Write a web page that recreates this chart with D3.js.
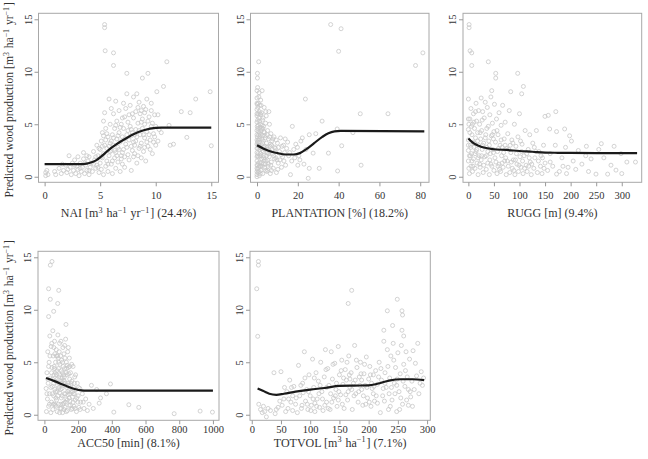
<!DOCTYPE html>
<html>
<head>
<meta charset="utf-8">
<script src="https://cdn.jsdelivr.net/npm/d3@7"></script>
<style>
  body { margin: 0; background: #fff; }
  svg text { font-family: "Liberation Serif", "Times New Roman", serif; fill: #333; }
</style>
</head>
<body>
<svg id="view" width="648" height="459"></svg>
<script>

// ---- data ----
const naiPts = [[0.1,0.1],[0.1,0.4],[0.2,0.6],[0.3,0.2],[0.9,0.5],[1.0,0.2],[1.3,0.8],[1.5,0.3],[1.7,0.6],[1.9,1.1],[2.0,0.4],[2.2,2.0],[2.3,0.9],[2.4,0.2],[2.5,1.3],[2.6,0.6],[2.7,1.6],[2.8,0.3],[2.9,1.0],[3.0,0.7],[3.0,1.9],[3.1,0.1],[3.2,1.3],[3.3,0.5],[3.4,0.9],[3.5,1.7],[3.5,2.3],[3.6,0.3],[3.7,1.1],[3.8,0.6],[3.9,1.5],[4.0,0.2],[4.0,1.9],[4.1,0.9],[4.2,1.3],[4.3,0.5],[4.4,2.4],[4.5,1.6],[4.6,0.8],[4.7,1.1],[4.8,2.0],[4.9,0.4],
  [5.0,1.3],[5.0,2.6],[5.1,0.7],[5.1,3.4],[5.2,1.8],[5.2,4.2],[5.3,0.2],[5.3,2.2],[5.3,5.3],[5.4,14.5],[5.4,14.2],[5.45,12.0],[5.4,3.0],[5.5,1.0],[5.5,4.6],[5.6,2.7],[5.6,1.5],[5.7,3.8],[5.7,0.5],[5.8,7.4],[5.8,2.0],[5.9,3.2],[5.9,5.0],[6.0,1.2],[6.0,2.5],[6.1,4.0],[6.1,0.3],[6.2,11.8],[6.2,10.6],[6.2,6.0],[6.2,3.0],[6.3,1.8],[6.3,4.6],[6.4,2.3],[6.4,0.8],[6.5,3.6],[6.5,5.3],[6.6,1.4],[6.6,2.8],[6.7,4.2],[6.7,6.3],[6.8,3.3],[6.8,0.5],[6.9,2.0],[6.9,5.0],
  [7.0,3.8],[7.0,1.2],[7.1,4.6],[7.1,2.6],[7.2,5.7],[7.2,0.9],[7.3,3.1],[7.3,6.5],[7.4,9.85],[7.4,7.9],[7.4,4.0],[7.5,2.1],[7.5,5.2],[7.6,3.5],[7.6,1.6],[7.7,4.8],[7.7,6.8],[7.8,2.9],[7.8,0.6],[7.9,4.2],[8.0,7.6],[8.0,3.3],[8.0,5.6],[8.1,2.2],[8.2,4.5],[8.2,6.2],[8.3,1.3],[8.3,3.8],[8.4,5.1],[8.5,2.7],[8.5,7.1],[8.6,4.0],[8.6,6.0],[8.7,3.2],[8.7,1.8],[8.8,9.4],[8.8,5.5],[8.8,4.6],[8.9,6.7],[8.9,2.4],[9.0,3.7],[9.0,5.0],[9.1,1.5],[9.1,6.4],[9.2,4.3],[9.3,9.85],[9.3,2.9],[9.4,5.7],[9.5,3.5],[9.6,6.3],[9.6,4.8],[9.7,2.2],[9.8,4.1],[9.9,5.9],[10.0,3.0],[10.1,8.1],[10.2,5.9],[10.3,4.5],[10.5,4.2],[10.7,8.6],[11.0,10.95],[11.2,4.9],[11.3,3.0],[11.6,3.1],[12.3,6.2],[12.8,3.75],[13.1,6.1],[13.6,7.4],[14.9,8.1],[15.0,2.95],
  [5.2,2.9],[5.5,3.5],[5.7,1.2],[6.0,3.4],[6.3,2.5],[6.6,3.9],[6.9,1.7],[7.2,3.6],[7.5,4.4],[7.8,3.9],[8.1,3.0],[8.4,2.0],[8.7,5.2],[9.0,2.8],[9.4,4.0],[9.8,3.3],[5.9,2.4],[6.4,4.9],[7.0,2.3],[8.0,1.9],
  [5.1,1.9],[5.3,3.9],[5.6,4.1],[5.8,2.9],[6.1,1.5],[6.2,3.7],[6.5,2.0],[6.7,2.6],[6.8,4.7],[7.0,5.6],[7.2,1.9],[7.4,2.8],[7.6,5.9],[7.8,4.5],[7.9,2.5],[8.1,4.0],[8.2,3.4],[8.4,6.6],[8.5,4.4],[8.6,2.9],[8.7,6.3],[8.9,4.0],[9.0,6.1],[9.2,3.3],[9.3,5.3],[9.5,2.6],[9.7,5.1],[9.9,3.8],[10.0,4.8],[10.2,3.4],[3.2,0.8],[3.6,1.3],[4.0,0.6],[4.4,1.2],[4.6,1.9],[4.8,0.9],[2.7,1.1],[3.8,2.0],[2.1,0.7],[1.6,1.2],[4.9,2.7],[4.7,3.0],[5.4,6.1],[6.0,6.5],[7.1,7.0],[6.4,7.2],[7.9,6.0],[9.6,7.0],[8.3,7.9],[9.2,7.4]];

const plantPts = [[0,0.2],[0,0.8],[0,1.5],[0,2.3],[0,3.1],[0,4.0],[0,5.2],[0,6.4],[0,7.5],[0.2,9.85],[0.2,9.4],[0.3,8.5],[0.3,1.1],[0.4,2.7],[0.4,4.6],[0.5,6.0],[0.5,0.4],[0.6,3.5],[0.7,7.0],[0.8,10.95],[0.8,1.9],[0.9,5.6],[1.0,2.9],[1.0,8.0],[1.1,0.1],[1.2,4.2],[1.3,6.8],[1.4,1.4],[1.5,3.8],[1.6,5.0],[1.7,2.2],[1.8,7.3],[1.9,0.6],[2.0,4.4],[2.1,3.0],[2.2,6.1],[2.3,1.7],[2.5,8.2],[2.6,2.5],[2.7,5.4],[2.8,0.3],[3.0,3.4],[3.1,1.2],[3.2,4.8],[3.4,2.0],[3.5,6.6],[3.7,0.9],[3.9,3.9],[4.0,2.6],[4.2,5.1],[4.4,1.5],[4.6,3.2],[4.8,0.5],[5.0,2.3],[5.2,4.4],[5.4,1.0],[5.6,3.6],[5.8,6.2],[6.0,1.9],[6.3,2.9],[6.5,0.3],[6.8,4.1],[7.0,1.4],[7.3,3.4],[7.6,2.2],[8.0,0.8],[8.3,3.8],[8.6,1.7],[9.0,2.7],[9.5,0.4],[10.0,3.2],[10.4,1.3],[11.0,2.4],[11.5,3.7],[12.0,0.9],[12.5,1.9],[13.0,3.0],[13.5,2.3],[14.0,1.1],[15.0,3.3],[15.5,2.0],[16.4,0.2],[17.0,1.5],[17.3,4.8],[18.0,2.6],[19.0,3.1],[20.0,1.1],[20.5,2.0],[21.5,3.4],[22.2,3.7],[23.7,7.4],[24.0,2.6],[25.1,-0.15],[25.6,0.8],[25.6,4.0],[27.5,2.25],[28.8,4.1],[30.5,0.8],[31.9,5.3],[35.0,2.25],[36.1,14.5],[39.3,4.55],[39.5,0.55],[40.0,11.95],[41.2,14.1],[41.5,2.95],[47.0,4.2],[50.6,6.0],[51.0,1.1],[64.2,6.0],[77.7,10.6],[81.3,11.8],
  [0,0.5],[0,1.1],[0,1.9],[0,2.7],[0,3.5],[0,4.4],[0,5.8],[0.1,6.9],[0.1,3.8],[0.2,2.0],[0.3,5.4],[0.6,4.9],[0.7,0.9],[0.9,3.3],[1.1,6.2],[1.3,2.6],[1.5,4.7],[1.6,0.3],[1.9,5.9],[2.1,1.3],[2.4,3.6],[2.9,4.6],[3.3,2.8],[3.6,1.6],[4.1,3.7],[4.5,5.8],[5.1,1.6],[5.5,2.6],[6.2,3.8],[6.7,1.1],[7.5,2.6],[8.2,2.0],[9.2,1.8],[10.5,2.8],[11.8,2.1],[13.2,1.5],[14.5,2.7],
  [0.4,3.0],[0.8,4.0],[1.2,1.0],[1.6,2.8],[2.0,2.0],[2.4,4.9],[2.8,3.2],[3.2,1.8],[3.6,4.2],[4.2,0.6],[4.8,2.8],[5.6,1.2],[6.4,2.4],[7.2,3.0],[8.8,2.4],[9.8,1.6],
  [0,0.0],[0,6.0],[0,7.0],[0,8.2],[0.1,4.8],[0.2,3.3],[0.3,0.7],[0.4,6.6],[0.5,2.2],[0.6,1.3],[0.7,4.3],[0.8,3.0],[0.9,7.6],[1.0,0.5],[1.1,3.6],[1.2,5.3],[1.4,2.0],[1.5,6.0],[1.7,4.0],[1.8,1.0],[2.0,6.8],[2.2,2.7],[2.3,4.6],[2.6,1.0],[2.7,3.9],[3.0,5.6],[3.1,2.4],[3.4,4.3],[3.8,2.9],[4.0,1.2],[4.3,6.2],[4.7,2.0],[5.0,4.0],[5.3,0.6],[5.7,2.2],[6.1,5.0],[6.6,3.1],[7.1,0.6],[7.8,3.6],[8.5,2.8],[9.4,3.5],[10.2,0.7],[11.2,1.6],[12.2,2.9],[13.8,3.6],[16.0,2.3],[18.5,1.8],[19.8,2.8],[21.0,1.6],[23.0,1.2]];

const ruggPts = [[0,7.4],[1.4,14.5],[1.4,14.2],[3.3,12.0],[6.6,11.8],[6.6,10.6],[39,10.95],[53.5,9.85],[53.5,9.4],[96.5,9.85],[107.6,8.6],[104.3,7.9],[82.8,8.1],[45.7,8.2],[149.8,5.75],[156.3,5.85],[171,6.2],[159,4.55],[188.3,4.55],[198,3.9],[201.6,3.4],[230.8,2.9],[229.5,2.0],[260,3.15],[172.5,4.3],[278.9,1.1],[288.7,0.63],[272.4,0.25],[326.8,1.4],[249.6,0.25],[298.5,2.2],[172.5,0.25],[192,0.3],
  [0,1.5],[0,2.5],[0,3.5],[0,4.5],[2,0.3],[2,2.0],[3,5.5],[4,3.0],[5,1.0],[5,6.5],[6,2.2],[7,4.0],[8,0.5],[8,5.0],[9,3.3],[10,1.7],[10,6.0],[11,2.8],[12,4.6],[13,0.8],[14,3.7],[15,2.4],[15,7.0],[16,5.3],[17,1.3],[18,4.2],[19,0.2],[20,3.0],[20,6.3],[21,2.0],[22,5.0],[23,0.9],[24,3.6],[25,7.5],[25,1.6],
  [26,4.4],[27,2.6],[28,6.2],[29,0.4],[30,3.2],[31,5.6],[32,1.9],[33,7.1],[34,4.0],[35,0.7],[36,2.8],[37,6.6],[38,1.3],[39,4.8],[40,3.4],[41,0.2],[42,5.9],[43,2.2],[44,7.6],[45,3.9],[46,1.0],[47,5.1],[48,2.6],[50,4.3],[50,0.6],[51,6.9],[52,1.8],[53,3.3],[55,5.5],[56,0.3],[57,2.4],[58,4.0],[60,6.1],[60,1.2],[62,3.0],[63,0.5],[64,4.9],[65,2.0],[67,6.8],[68,0.9],[70,3.6],[71,1.5],[72,5.2],[74,0.2],[75,2.7],
  [77,4.1],[78,1.0],[80,6.3],[81,0.4],[83,2.3],[85,3.5],[86,0.8],[88,1.6],[90,5.0],[91,0.2],[93,2.9],[95,1.2],[97,3.8],[98,0.5],[100,6.0],[101,1.9],[103,0.9],[105,3.1],[107,0.3],[109,2.0],[111,4.4],[113,1.1],[115,0.5],[117,2.6],[120,4.0],[121,1.4],[123,0.2],[126,3.2],[128,0.8],[130,1.8],[133,4.4],[135,0.4],[138,2.4],[141,1.0],[144,0.3],[147,3.0],[150,1.3],
  [155,0.6],[160,2.2],[165,1.0],[170,3.0],[178,0.5],[183,1.8],[190,2.8],[195,0.9],[205,1.5],[210,0.7],[215,2.5],[222,1.2],[235,0.5],[240,1.7],[255,2.6],[265,1.8],[285,2.9],[300,0.3],[310,1.4],
  [1,5.0],[4,2.0],[7,1.5],[12,3.2],[16,2.6],[22,1.2],[28,3.0],[35,2.0],[42,1.6],[49,3.6],[58,1.0],[66,2.8],[73,1.8],[82,3.0],[92,1.6],[104,2.4],[118,1.0],[132,2.4],[145,1.8],
  [0,3.0],[0,5.5],[1,0.8],[3,4.2],[5,2.8],[6,4.8],[9,1.0],[11,5.2],[13,2.2],[14,6.2],[18,3.4],[19,1.8],[23,4.2],[26,2.0],[27,5.4],[30,1.1],[33,3.7],[36,4.6],[38,2.4],[41,3.0],[44,1.2],[47,4.0],[49,2.3],[54,1.4],[56,4.4],[59,2.7],[61,0.7],[64,3.5],[66,1.3],[69,2.3],[72,3.0],[76,1.5],[79,2.6],[84,1.4],[87,3.2],[89,0.6],[94,2.2],[99,1.1],[102,3.4],[106,1.5],[110,0.8],[114,2.2],[119,1.8],[124,1.2],[129,2.8],[137,1.5],[142,2.0],[148,0.8],[160,1.4],[185,1.0]];

const accPts = [[45,14.6],[35,14.25],[25,12.0],[85,11.85],[35,11.0],[79,10.6],[55,9.85],[25,9.35],[128,8.6],[392,2.93],[501,0.95],[560,0.7],[412,0.25],[770,0.1],[924,0.35],[997,0.25],[368,2.0],[333,1.6],[279,2.8],[325,1.1],
  [10,2.5],[12,0.3],[15,4.0],[18,1.5],[20,6.0],[22,3.0],[25,0.8],[28,5.0],[30,2.0],[32,7.5],[35,3.5],[38,0.2],[40,6.5],[42,1.2],[45,4.5],[47,2.7],[50,8.0],[50,0.5],[52,5.6],[55,1.8],[57,3.8],[60,7.0],[62,2.4],[64,0.9],[66,5.0],[68,3.2],[70,6.2],[72,1.4],[74,4.2],[76,0.3],[78,2.8],[80,7.6],[82,5.4],[84,1.0],[86,3.6],[88,6.0],[90,2.1],[92,4.8],[94,0.6],[96,3.0],[98,7.0],[100,1.6],[102,5.2],[104,2.5],[106,4.0],[108,0.2],[110,6.4],[112,3.3],[114,1.1],[116,5.8],[118,2.0],[120,4.4],[122,0.7],[124,3.0],[126,7.2],[128,1.5],[130,5.0],[132,2.6],[134,3.8],[136,0.4],[138,6.0],[140,1.9],[142,4.5],[144,2.8],[146,0.9],[148,5.4],[150,3.4],[152,1.3],[155,4.0],[158,2.2],[160,0.5],[163,3.2],[166,1.7],[170,4.6],[173,2.6],[176,0.8],[180,3.6],[183,1.4],[187,2.4],[190,0.3],[195,3.0],[200,1.8],[205,0.7],[210,2.5],[215,1.2],[225,2.0],[235,0.6],[245,1.5],[255,0.4],[265,1.0],[290,0.6],[310,2.4],
  [55,3.0],[65,4.0],[75,2.2],[85,5.0],[95,2.4],[105,3.5],[115,3.8],[125,2.0],[135,4.7],[145,3.9],[60,1.0],[90,0.2],[110,1.0],[130,0.3],[70,3.8],[100,4.2],[120,6.6],[150,2.0],[170,1.2],[185,3.8],
  [48,2.0],[58,4.6],[68,1.6],[78,5.6],[88,3.0],[98,1.0],[108,2.8],[118,3.2],[128,4.0],[138,2.2],[148,1.6],[158,3.0],[168,2.2],[178,2.0],[198,1.2],
  [15,2.0],[20,3.4],[25,4.6],[30,1.0],[33,5.6],[38,2.6],[42,4.0],[44,6.8],[48,3.4],[52,1.0],[56,6.4],[60,4.4],[62,5.8],[66,2.2],[70,0.8],[72,5.6],[76,3.4],[80,1.8],[84,4.4],[86,2.6],[90,6.8],[92,3.8],[96,5.6],[100,0.6],[102,3.2],[106,1.8],[108,5.0],[112,4.6],[116,0.5],[118,3.6],[122,5.4],[124,1.2],[128,2.8],[132,4.4],[136,1.4],[140,3.0],[142,6.4],[146,2.3],[150,4.6],[154,0.9],[156,2.8],[162,4.8],[166,0.6],[172,2.0],[178,3.0],[182,0.6],[192,1.6],[202,2.6],[212,0.5],[230,1.2]];

const totPts = [[11.4,14.6],[11.4,14.25],[8.5,12.0],[10.2,7.47],[171,11.85],[165,10.6],[249,11.0],[232,9.9],[257,9.9],[258,9.5],[241,8.5],[226,8.05],[257,8.05],[260,7.5],
  [12,1.0],[15,0.5],[18,0.2],[20,0.8],[22,0.3],[25,-0.2],[28,0.6],[32,0.4],[38,4.0],[40,0.1],[45,0.7],[50,4.1],[52,0.9],[55,1.5],[58,0.3],[60,2.2],[62,0.6],[65,3.3],[67,1.2],[70,0.4],[72,2.7],[75,1.0],[78,0.2],[80,4.7],[82,1.8],[85,0.6],[87,3.0],[90,6.0],[92,1.3],[94,2.4],[96,0.5],[98,3.8],[100,1.8],[102,0.9],[104,5.3],[106,2.6],[108,0.3],[110,4.0],[112,1.5],[114,3.2],[116,0.7],[118,5.0],[120,2.2],[122,0.4],[124,3.6],[126,6.2],[128,1.2],[130,4.4],[132,2.8],[134,0.5],[136,6.0],[138,3.4],[140,1.6],[142,4.9],[144,2.4],[146,0.8],[148,6.5],[150,3.8],[152,1.9],[154,5.2],[156,2.9],[158,0.6],[160,4.3],[162,3.3],[164,1.4],[166,5.6],[168,2.6],[170,4.0],[172,0.5],[174,3.0],[176,6.6],[178,2.0],[180,4.5],[182,1.2],[184,3.6],[186,5.0],[188,2.4],[190,0.9],[192,3.9],[194,2.8],[196,5.5],[198,1.6],[200,3.4],[202,4.6],[204,0.8],[206,2.5],[208,3.8],[210,1.3],[212,4.2],[215,2.9],[218,5.0],[220,0.2],[222,3.3],[224,1.8],[226,7.0],[228,4.0],[230,2.6],[232,6.2],[234,0.5],[236,3.5],[238,5.6],[240,1.4],[242,6.8],[244,3.0],[246,4.5],[248,0.3],[250,5.9],[252,2.2],[254,3.9],[256,6.6],[258,1.0],[260,4.8],[262,2.7],[264,6.0],[266,3.6],[268,0.9],[270,5.3],[272,1.7],[274,3.2],[276,6.1],[278,2.4],[280,4.9],[282,3.7],[284,6.8],[286,2.0],[288,3.0],[290,4.1],[292,2.8],[294,3.5],
  [95,1.0],[105,1.5],[115,2.0],[125,0.9],[135,2.0],[145,3.0],[155,1.0],[165,2.2],[175,1.8],[185,2.8],[195,1.0],[205,3.0],[215,1.1],[225,2.5],[235,2.0],[245,2.0],[255,1.6],[265,1.4],[275,0.8],
  [70,1.8],[88,2.1],[108,1.1],[128,2.6],[148,1.4],[168,3.4],[188,3.3],[208,2.0],[228,3.0],[248,2.8],[268,2.4],
  [42,0.5],[48,1.3],[56,2.6],[63,1.5],[68,2.6],[76,1.6],[84,2.8],[86,0.9],[91,3.5],[97,2.2],[101,0.4],[107,3.5],[111,0.8],[117,2.8],[121,1.5],[127,4.3],[131,0.6],[137,1.2],[139,4.8],[143,1.8],[149,2.2],[153,4.2],[157,3.5],[161,1.9],[163,5.0],[167,3.8],[171,2.4],[177,3.3],[179,5.2],[183,2.2],[187,3.9],[191,1.8],[193,4.8],[197,2.6],[201,1.2],[203,3.8],[209,2.7],[213,1.8],[217,3.6],[221,4.4],[227,1.3],[233,4.6],[237,0.8],[239,2.6],[243,5.2],[249,3.4],[253,0.5],[259,3.2],[263,4.2],[271,2.2]];

// partial dependence curves
const naiCurve   = [[0,1.2],[1,1.2],[2,1.2],[3,1.2],[3.8,1.25],[4.3,1.4],[4.7,1.6],[5,1.85],[6,2.75],[7,3.45],[8,4.05],[9,4.45],[10,4.65],[10.5,4.68],[15,4.68]];
const plantCurve = [[0,3.0],[3,2.7],[6,2.45],[10,2.25],[14,2.12],[18,2.12],[21,2.25],[24,2.6],[28,3.2],[32,3.8],[35,4.15],[38,4.32],[41,4.36],[82,4.33]];
const ruggCurve  = [[0,3.65],[5,3.4],[10,3.2],[20,2.95],[30,2.78],[50,2.62],[75,2.55],[100,2.45],[125,2.38],[150,2.3],[175,2.28],[200,2.27],[330,2.25]];
const accCurve   = [[10,3.5],[60,3.2],[120,2.8],[180,2.45],[220,2.32],[250,2.3],[1000,2.3]];
const totCurve   = [[10,2.5],[20,2.25],[30,2.0],[42,1.9],[55,2.0],[75,2.2],[100,2.4],[125,2.55],[150,2.75],[175,2.78],[200,2.8],[215,2.95],[235,3.25],[255,3.38],[275,3.38],[295,3.3]];

// tick labels
const naiTicks   = [0, 5, 10, 15];
const plantTicks = [0, 20, 40, 60, 80];
const ruggTicks  = [0, 50, 100, 150, 200, 250, 300];
const accTicks   = [0, 200, 400, 600, 800, 1000];
const totTicks   = [0, 50, 100, 150, 200, 250, 300];
const yTicks     = [0, 5, 10, 15];

// axis titles, pieces marked 1 are superscripts
const naiTitle   = [["NAI [m"],["3",1],[" ha"],["\u22121",1],[" yr"],["\u22121",1],["] (24.4%)"]];
const plantTitle = [["PLANTATION [%] (18.2%)"]];
const ruggTitle  = [["RUGG [m] (9.4%)"]];
const accTitle   = [["ACC50 [min] (8.1%)"]];
const totTitle   = [["TOTVOL [m"],["3",1],[" ha"],["\u22121",1],["] (7.1%)"]];
const yTitle     = [["Predicted wood production [m"],["3",1],[" ha"],["\u22121",1],[" yr"],["\u22121",1],["]"]];

const yDomain = [-0.53, 15.57];

const panels = [
  {pts: naiPts,   curve: naiCurve,   ticks: naiTicks,   title: naiTitle,   xd: [-0.55, 15.65], left: 38.5, top: 13.3,  w: 180, h: 169, ylab: true,  tb: 16.5, ttl: 35},
  {pts: plantPts, curve: plantCurve, ticks: plantTicks, title: plantTitle, xd: [-3.2, 84.3],   left: 250.5, top: 13.3, w: 178.5, h: 169, ylab: false, tb: 16.5, ttl: 35},
  {pts: ruggPts,  curve: ruggCurve,  ticks: ruggTicks,  title: ruggTitle,  xd: [-10.5, 339],   left: 463, top: 13.3,   w: 178.7, h: 169, ylab: false, tb: 16.5, ttl: 35},
  {pts: accPts,   curve: accCurve,   ticks: accTicks,   title: accTitle,   xd: [-38, 1036],    left: 38, top: 251.3,   w: 181, h: 169, ylab: true,  tb: 13, ttl: 26.5},
  {pts: totPts,   curve: totCurve,   ticks: totTicks,   title: totTitle,   xd: [-3, 305.5],    left: 250, top: 251.3,  w: 180.3, h: 169, ylab: false, tb: 13, ttl: 26.5}
];

const richText = function(sel, parts, size){
  parts.forEach(p => {
    if (p[1]) {
      sel.append("tspan").attr("font-size", size * 0.68).attr("dy", -size * 0.38).text(p[0]);
      sel.append("tspan").attr("font-size", size).attr("dy", size * 0.38).text("\u200a");
    } else {
      sel.append("tspan").attr("font-size", size).text(p[0]);
    }
  });
};

const drawPanel = function(svg, cfg){
  const g = svg.append("g").attr("transform", `translate(${cfg.left},${cfg.top})`);
  const x = d3.scaleLinear().domain(cfg.xd).range([0, cfg.w]);
  const y = d3.scaleLinear().domain(yDomain).range([cfg.h, 0]);

  // observed values
  g.selectAll(".pt")
    .data(cfg.pts)
    .enter()
    .append("circle")
    .attr("cx", d => x(d[0]))
    .attr("cy", d => y(d[1]))
    .attr("r", 2)
    .attr("fill", "none")
    .attr("stroke", "#c8c8c8")
    .attr("stroke-width", 0.8);

  // fitted curve
  const line = d3.line()
    .x(d => x(d[0]))
    .y(d => y(d[1]))
    .curve(d3.curveMonotoneX);
  g.append("path")
    .datum(cfg.curve)
    .attr("d", line)
    .attr("fill", "none")
    .attr("stroke", "#1a1a1a")
    .attr("stroke-width", 2.2);

  // box
  g.append("rect")
    .attr("width", cfg.w).attr("height", cfg.h)
    .attr("fill", "none").attr("stroke", "#a8a8a8").attr("stroke-width", 1);

  const xAxis = d3.axisBottom(x).tickValues(cfg.ticks).tickSize(4).tickFormat(d3.format("d"));
  const gx = g.append("g").attr("transform", `translate(0,${cfg.h})`).call(xAxis);
  gx.select(".domain").remove();
  gx.selectAll("line").attr("stroke", "#999");
  gx.selectAll("text")
    .attr("y", cfg.tb).attr("dy", null)
    .attr("font-size", 10.5).attr("font-family", "Liberation Serif").attr("fill", "#333");

  const yAxis = d3.axisLeft(y).tickValues(yTicks).tickSize(4);
  const gy = g.append("g").call(yAxis);
  gy.select(".domain").remove();
  gy.selectAll("line").attr("stroke", "#999");
  gy.selectAll("text")
    .attr("x", null).attr("dy", null)
    .attr("transform", "translate(-7,0) rotate(-90)")
    .attr("text-anchor", "middle")
    .attr("font-size", 10.5).attr("font-family", "Liberation Serif").attr("fill", "#333");

  const t = g.append("text")
    .attr("x", cfg.w / 2).attr("y", cfg.h + cfg.ttl)
    .attr("text-anchor", "middle");
  richText(t, cfg.title, 12);

  if (cfg.ylab) {
    const yt = svg.append("text")
      .attr("transform", `translate(13,${cfg.top + cfg.h / 2 + 2}) rotate(-90)`)
      .attr("text-anchor", "middle");
    richText(yt, yTitle, 11.6);
  }
};

const svg = d3.select("#view");
panels.forEach(p => drawPanel(svg, p));

</script>
</body>
</html>
